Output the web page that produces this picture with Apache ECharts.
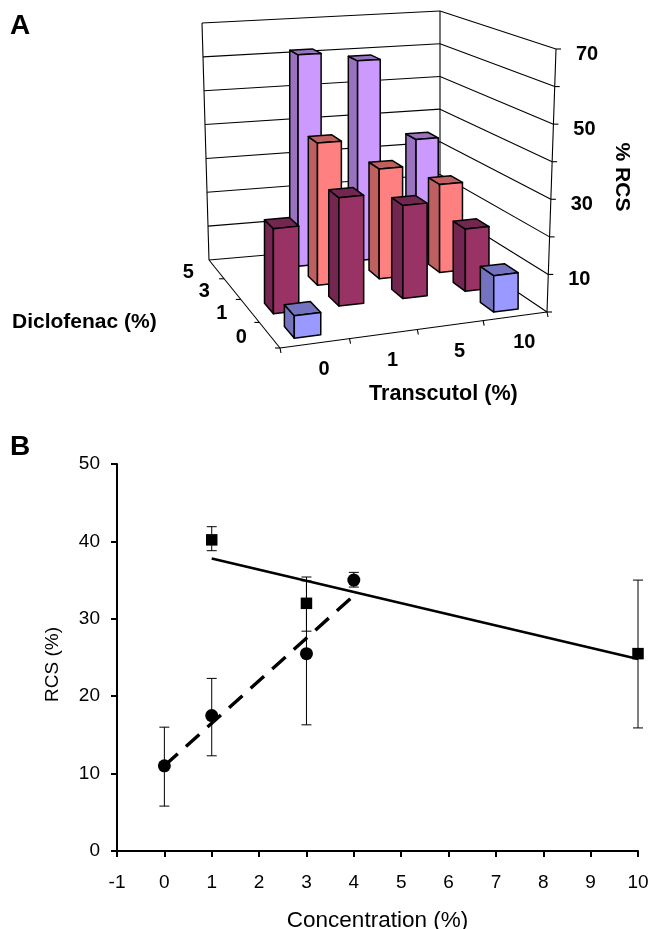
<!DOCTYPE html>
<html><head><meta charset="utf-8">
<style>html,body{margin:0;padding:0;background:#fff}#c{width:653px;height:929px}</style>
<script src="https://cdn.jsdelivr.net/npm/echarts@6/dist/echarts.min.js"></script>
</head><body><div id="c"></div>
<script>
// ---------- Panel A data
const transcutolLabels = ['0','1','5','10'];
const diclofenacLabels = ['0','1','3','5'];
const rcsTicks = [0,10,20,30,40,50,60,70];
const rcsLabels = [10,30,50,70];
const rcsDic5 = [null,61.5,58.7,34.3];
const rcsDic3 = [null,39.8,31.1,25.2];
const rcsDic1 = [22.6,29.2,25.4,17.2];
const rcsDic0 = [5.7,null,null,9.7];
// ---------- Panel B data
const circleX = [0,1,3,4];
const circleY = [11,17.5,25.5,35];
const circleHi = [16,22.3,35.4,36];
const circleLo = [5.8,12.3,16.3,34.1];
const squareX = [1,3,10];
const squareY = [40.2,32,25.5];
const squareHi = [41.9,34.9,35];
const squareLo = [38.8,28.4,15.9];
const trendSolid = [[1,37.8],[10,24.8]];
const trendDashed = [[0,11],[4,33]];

// ---------- perspective helpers for the 3D panel
function homography(q){
  const [p0,p1,p2,p3]=q;
  const dx1=p1[0]-p2[0],dx2=p3[0]-p2[0],dy1=p1[1]-p2[1],dy2=p3[1]-p2[1];
  const sx=p0[0]-p1[0]+p2[0]-p3[0],sy=p0[1]-p1[1]+p2[1]-p3[1];
  const d=dx1*dy2-dx2*dy1;
  const g=(sx*dy2-dx2*sy)/d,h=(dx1*sy-sx*dy1)/d;
  const a=p1[0]-p0[0]+g*p1[0],b=p3[0]-p0[0]+h*p3[0],c=p0[0];
  const e=p1[1]-p0[1]+g*p1[1],f=p3[1]-p0[1]+h*p3[1],k=p0[1];
  return (s,t)=>{const w=g*s+h*t+1;return [(a*s+b*t+c)/w,(e*s+f*t+k)/w];};
}
const floorH = homography([[280,348],[547,312],[440,240],[209,260]]);
const topH   = homography([[266,68],[556,49],[440,11],[202,23]]);
const BAR_LO=0.29, BAR_HI=0.675, DEPTH_LO=0.27, DEPTH_HI=0.73;

function makeProj(api,params){
  const r=params.coordSys;
  return (u,v,w)=>{
    const c=api.coord([u,w]);
    const s0=(c[0]-r.x)/r.width, f=(r.y+r.height-c[1])/r.height;
    const s=s0-0.09*s0*(1-s0);
    const a=floorH(s,v/4), b=topH(s,v/4);
    return [a[0]+(b[0]-a[0])*f,a[1]+(b[1]-a[1])*f];
  };
}
function line(p,q,w){return {type:'line',shape:{x1:p[0],y1:p[1],x2:q[0],y2:q[1]},style:{stroke:'#000',lineWidth:w||1.1,fill:null}};}
function label(t,x,y){return {type:'text',x:x,y:y,style:{text:t,fill:'#000',font:'bold 20px "Liberation Sans",Arial,sans-serif',align:'center',verticalAlign:'middle'}};}

function renderFrame(params,api){
  const P=makeProj(api,params), ch=[];
  const top=70;
  ch.push(line(P(0,4,0),P(0,4,top)),line(P(0,4,top),P(4,4,top)),line(P(4,4,top),P(4,4,0)),
           line(P(4,4,top),P(4,0,top)),line(P(4,0,top),P(4,0,0)),
           line(P(0,4,0),P(4,4,0)),line(P(4,4,0),P(4,0,0)),line(P(0,0,0),P(4,0,0)),line(P(0,0,0),P(0,4,0)));
  rcsTicks.forEach(t=>{
    if(t>0&&t<top){ch.push(line(P(0,4,t),P(4,4,t)),line(P(4,4,t),P(4,0,t)));}
    const a=P(4,0,t);ch.push(line(a,[a[0]+5,a[1]]));
  });
  for(let i=0;i<=4;i++){
    const a=P(i,0,0);ch.push(line(a,[a[0]+1,a[1]+5]));
    const b=P(0,i,0);if(i<4)ch.push(line(b,[b[0]-5,b[1]]));
  }
  transcutolLabels.forEach((t,i)=>{const a=P(i+.5,0,0);ch.push(label(t,a[0]+9,a[1]+26));});
  diclofenacLabels.forEach((t,i)=>{const a=P(0,i+.5,0);ch.push(label(t,a[0]-28,a[1]+3));});
  rcsLabels.forEach(t=>{const a=P(4,0,t);ch.push(label(String(t),a[0]+31,a[1]+5));});
  return {type:'group',children:ch};
}
function renderBar(params,api){
  const Q=makeProj(api,params);
  // bar edges stay upright, as they do in the reference
  const P=(u,v,w)=>[Q(u,v,0)[0],Q(u,v,w)[1]];
  const u=api.value(0),v=api.value(1),w=api.value(2);
  const col=api.visual('color'),dark=params.seriesName.split('|')[1];
  const u0=u+BAR_LO,u1=u+BAR_HI,v0=v+DEPTH_LO,v1=v+DEPTH_HI;
  const poly=(pts,fill)=>({type:'polygon',shape:{points:pts},style:{fill:fill,stroke:'#000',lineWidth:1.5,lineJoin:'round'}});
  return {type:'group',children:[
    poly([P(u0,v0,0),P(u0,v1,0),P(u0,v1,w),P(u0,v0,w)],dark),
    poly([P(u0,v0,w),P(u0,v1,w),P(u1,v1,w),P(u1,v0,w)],dark),
    poly([P(u0,v0,0),P(u1,v0,0),P(u1,v0,w),P(u0,v0,w)],col)
  ]};
}
function barData(vals,row){return vals.map((z,i)=>z==null?null:[i,row,z]).filter(Boolean);}
function barSeries(vals,row,color,side,z){
  return {type:'custom',name:'Diclofenac '+diclofenacLabels[row]+'|'+side,xAxisIndex:0,yAxisIndex:0,
    data:barData(vals,row),renderItem:renderBar,itemStyle:{color:color},silent:true,animation:false,z:z,
    encode:{x:0,y:2},clip:false};
}
function errSeries(xs,hi,lo){
  return {type:'custom',xAxisIndex:1,yAxisIndex:1,silent:true,animation:false,z:3,clip:false,
    data:xs.map((x,i)=>[x,hi[i],lo[i]]),
    renderItem:(p,api)=>{
      const a=api.coord([api.value(0),api.value(1)]),b=api.coord([api.value(0),api.value(2)]);
      const s={stroke:'#000',lineWidth:1};
      const l=(x1,y1,x2,y2)=>({type:'line',shape:{x1,y1,x2,y2},style:s});
      return {type:'group',children:[l(a[0],a[1],b[0],b[1]),l(a[0]-5,a[1],a[0]+5,a[1]),l(b[0]-5,b[1],b[0]+5,b[1])]};
    }};
}
const axisFont={color:'#000',fontSize:19,fontFamily:'"Liberation Sans",Arial,sans-serif'};
const boldFont='bold 21px "Liberation Sans",Arial,sans-serif';
const option={
  animation:false,backgroundColor:'#fff',
  grid:[
    {left:300,top:100,width:100,height:100,show:false,outerBoundsMode:'none'},
    {left:117,top:464,width:521,height:387,show:false,outerBoundsMode:'none'}
  ],
  xAxis:[
    {gridIndex:0,type:'value',min:0,max:4,show:false},
    {gridIndex:1,type:'value',min:-1,max:10,interval:1,splitLine:{show:false},
     axisLine:{onZero:false,lineStyle:{color:'#000',width:2}},axisTick:{length:6,lineStyle:{color:'#000',width:2}},
     axisLabel:Object.assign({margin:22},axisFont),
     name:'Concentration (%)',nameLocation:'middle',nameGap:58,nameTextStyle:Object.assign({},axisFont,{fontSize:22.5})}
  ],
  yAxis:[
    {gridIndex:0,type:'value',min:0,max:70,show:false},
    {gridIndex:1,type:'value',min:0,max:50,interval:10,splitLine:{show:false},
     axisLine:{onZero:false,lineStyle:{color:'#000',width:2}},axisTick:{length:6,lineStyle:{color:'#000',width:2}},
     axisLabel:Object.assign({margin:17},axisFont),
     name:'RCS (%)',nameLocation:'middle',nameGap:55,nameTextStyle:Object.assign({},axisFont,{fontSize:19,padding:[0,14,0,0]})}
  ],
  graphic:[
    {type:'text',left:10,top:12,style:{text:'A',fill:'#000',font:'bold 28px "Liberation Sans",Arial,sans-serif'}},
    {type:'text',left:10,top:433,style:{text:'B',fill:'#000',font:'bold 28px "Liberation Sans",Arial,sans-serif'}},
    {type:'text',left:12,top:312,style:{text:'Diclofenac (%)',fill:'#000',font:boldFont}},
    {type:'text',left:369,top:383,style:{text:'Transcutol (%)',fill:'#000',font:'bold 21.6px "Liberation Sans",Arial,sans-serif'}},
    {type:'text',x:622,y:177,rotation:-Math.PI/2,style:{text:'% RCS',fill:'#000',font:boldFont,align:'center',verticalAlign:'middle'}}
  ],
  series:[
    {type:'custom',xAxisIndex:0,yAxisIndex:0,data:[[0,0]],renderItem:renderFrame,silent:true,animation:false,z:1,clip:false},
    barSeries(rcsDic5,3,'#CC99FF','#9973BF',2),
    barSeries(rcsDic3,2,'#FF8080','#BF6060',3),
    barSeries(rcsDic1,1,'#993366','#732650',4),
    barSeries(rcsDic0,0,'#9999FF','#7373BF',5),
    errSeries(circleX,circleHi,circleLo),
    errSeries(squareX,squareHi,squareLo),
    {type:'line',xAxisIndex:1,yAxisIndex:1,data:trendSolid,symbol:'none',lineStyle:{color:'#000',width:2.5},z:4,animation:false,silent:true},
    {type:'line',xAxisIndex:1,yAxisIndex:1,data:trendDashed,symbol:'none',lineStyle:{color:'#000',width:3.4,type:[18,11]},z:4,animation:false,silent:true},
    {type:'scatter',xAxisIndex:1,yAxisIndex:1,data:circleX.map((x,i)=>[x,circleY[i]]),symbol:'circle',symbolSize:13,itemStyle:{color:'#000',opacity:1},z:5,animation:false,silent:true},
    {type:'scatter',xAxisIndex:1,yAxisIndex:1,data:squareX.map((x,i)=>[x,squareY[i]]),symbol:'rect',symbolSize:11.5,itemStyle:{color:'#000',opacity:1},z:5,animation:false,silent:true}
  ]
};
echarts.init(document.getElementById('c'),null,{renderer:'canvas'}).setOption(option);
</script></body></html>
